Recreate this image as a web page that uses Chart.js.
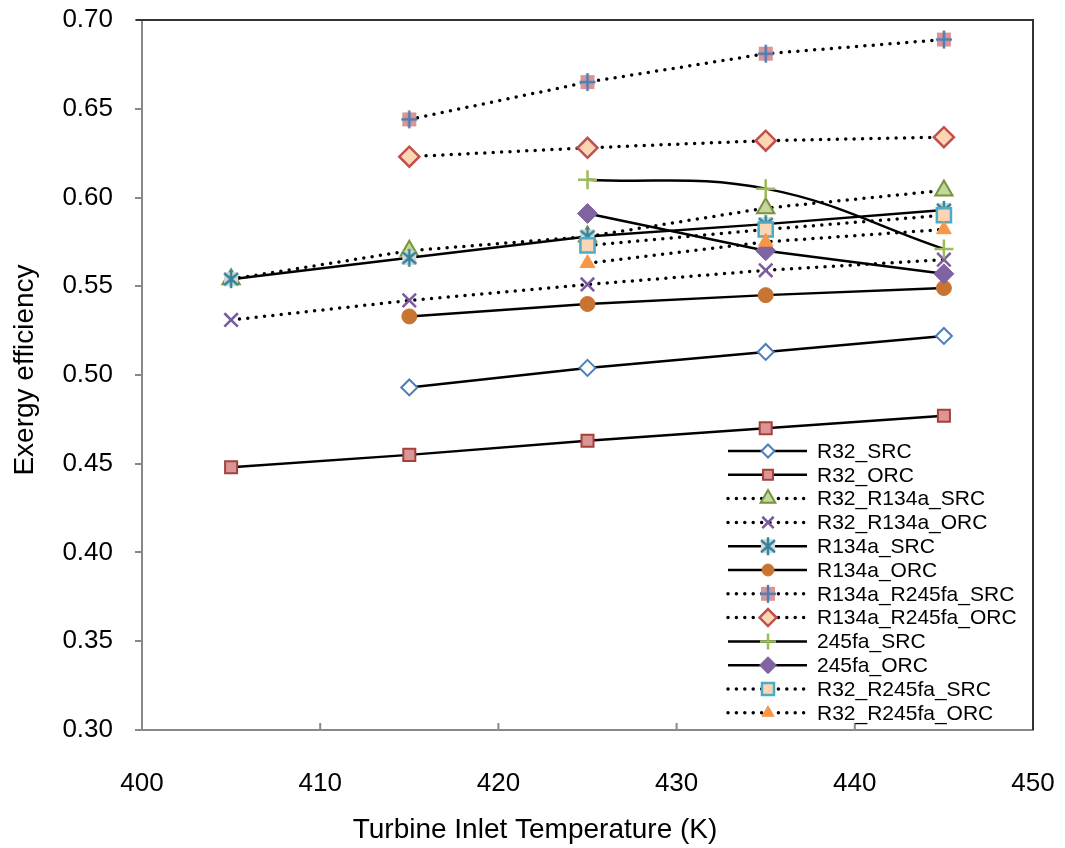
<!DOCTYPE html>
<html>
<head>
<meta charset="utf-8">
<script src="https://cdn.jsdelivr.net/npm/chart.js@4.4.1/dist/chart.umd.min.js"></script>
<style>
  html, body { margin: 0; padding: 0; background: #fff; }
  #wrap { width: 1065px; height: 848px; }
</style>
</head>
<body>
<div id="wrap"><canvas id="expChart" width="1065" height="848"></canvas></div>
<script>
// turbine inlet temperatures (K)
const temps = [405, 415, 425, 435, 445];
const yTicks = [0.30, 0.35, 0.40, 0.45, 0.50, 0.55, 0.60, 0.65, 0.70];
const xTicks = [400, 410, 420, 430, 440, 450];

const seriesNames = ['R32_SRC', 'R32_ORC', 'R32_R134a_SRC', 'R32_R134a_ORC', 'R134a_SRC', 'R134a_ORC',
    'R134a_R245fa_SRC', 'R134a_R245fa_ORC', '245fa_SRC', '245fa_ORC', 'R32_R245fa_SRC', 'R32_R245fa_ORC'];

// exergy efficiency, one value per temperature (null = no point)
const r32Src         = [null, 0.493, 0.504, 0.513, 0.522];
const r32Orc         = [0.448, 0.455, 0.463, 0.470, 0.477];
const r32R134aSrc    = [0.554, 0.570, 0.578, 0.594, 0.604];
const r32R134aOrc    = [0.531, 0.542, 0.551, 0.559, 0.565];
const r134aSrc       = [0.554, 0.566, 0.578, 0.585, 0.593];
const r134aOrc       = [null, 0.533, 0.540, 0.545, 0.549];
const r134aR245faSrc = [null, 0.644, 0.665, 0.681, 0.689];
const r134aR245faOrc = [null, 0.623, 0.628, 0.632, 0.634];
const r245faSrc      = [null, null, 0.610, 0.605, 0.571];
const r245faOrc      = [null, null, 0.591, 0.570, 0.557];
const r32R245faSrc   = [null, null, 0.573, 0.582, 0.590];
const r32R245faOrc   = [null, null, 0.563, 0.575, 0.582];

const allSeries = [r32Src, r32Orc, r32R134aSrc, r32R134aOrc, r134aSrc, r134aOrc,
    r134aR245faSrc, r134aR245faOrc, r245faSrc, r245faOrc, r32R245faSrc, r32R245faOrc];

// custom marker images
function pinkPlus() {
    const c = document.createElement('canvas');
    c.width = 20; c.height = 20;
    const g = c.getContext('2d');
    g.fillStyle = '#DA9694';
    g.fillRect(3, 3, 14, 14);
    g.strokeStyle = '#4A7EBB';
    g.lineWidth = 2.5;
    g.beginPath();
    g.moveTo(10, 1); g.lineTo(10, 19);
    g.moveTo(2, 10); g.lineTo(18, 10);
    g.stroke();
    return c;
}
function greyStar() {
    const c = document.createElement('canvas');
    c.width = 20; c.height = 20;
    const g = c.getContext('2d');
    g.fillStyle = '#D9D9D9';
    g.fillRect(3, 3, 14, 14);
    g.strokeStyle = '#31859C';
    g.lineWidth = 2.5;
    g.beginPath();
    g.moveTo(10, 1); g.lineTo(10, 19);
    g.moveTo(3, 4); g.lineTo(17, 16);
    g.moveTo(17, 4); g.lineTo(3, 16);
    g.stroke();
    return c;
}

const markers = [
    { style: 'rectRot', r: 8, fill: '#FFFFFF', line: '#4A7EBB', bw: 2 },
    { style: 'rect', r: 8.5, fill: '#DA9694', line: '#A5403D', bw: 2 },
    { style: 'triangle', r: 10, fill: '#C3D69B', line: '#77933C', bw: 2 },
    { style: 'crossRot', r: 9.5, fill: '#7B5A9E', line: '#7B5A9E', bw: 2.5 },
    { style: greyStar(), r: 9, fill: '#D9D9D9', line: '#31859C', bw: 2 },
    { style: 'circle', r: 7.5, fill: '#C87533', line: '#C87533', bw: 1 },
    { style: pinkPlus(), r: 9, fill: '#DA9694', line: '#4A7EBB', bw: 2 },
    { style: 'rectRot', r: 10, fill: '#FCD5B5', line: '#C0504D', bw: 2.5 },
    { style: 'cross', r: 9.5, fill: '#9BBB59', line: '#9BBB59', bw: 2.5 },
    { style: 'rectRot', r: 10, fill: '#8064A2', line: '#8064A2', bw: 1 },
    { style: 'rect', r: 10, fill: '#FCD5B5', line: '#4BACC6', bw: 2.5 },
    { style: 'triangle', r: 8.5, fill: '#F79646', line: '#F79646', bw: 1 }
];
const dotted = [false, false, true, true, false, false, true, true, false, false, true, true];
const smooth = [0, 0, 0, 0, 0, 0, 0, 0, 0.4, 0, 0, 0];

Chart.defaults.font.family = '"Liberation Sans", Arial, sans-serif';
Chart.defaults.color = '#000';

const datasets = allSeries.map((vals, i) => ({
    label: seriesNames[i],
    data: temps.map((t, j) => vals[j] == null ? null : { x: t, y: vals[j] }).filter(p => p),
    borderColor: '#000',
    borderWidth: dotted[i] ? 3.5 : 2.5,
    borderDash: dotted[i] ? [0, 8.4] : [],
    borderCapStyle: dotted[i] ? 'round' : 'butt',
    tension: smooth[i],
    pointStyle: markers[i].style,
    pointRadius: markers[i].r,
    pointBackgroundColor: markers[i].fill,
    pointBorderColor: markers[i].line,
    pointBorderWidth: markers[i].bw,
    order: allSeries.length - i,
    fill: false
}));

const decor = {
    id: 'decor',
    afterDraw(chart) {
        const ctx = chart.ctx;
        const a = chart.chartArea;
        const xs = chart.scales.x;
        ctx.save();
        // inward x ticks
        ctx.strokeStyle = '#888';
        ctx.lineWidth = 2;
        xTicks.forEach(t => {
            const px = xs.getPixelForValue(t);
            ctx.beginPath();
            ctx.moveTo(px, a.bottom);
            ctx.lineTo(px, a.bottom - 7);
            ctx.stroke();
        });
        // top and right frame
        ctx.strokeStyle = '#333';
        ctx.beginPath();
        ctx.moveTo(a.left - 6, a.top);
        ctx.lineTo(a.right, a.top);
        ctx.lineTo(a.right, a.bottom);
        ctx.stroke();

        // axis titles
        ctx.fillStyle = '#000';
        ctx.textAlign = 'center';
        ctx.textBaseline = 'middle';
        ctx.font = '28px "Liberation Sans", Arial, sans-serif';
        ctx.save();
        ctx.translate(25, 370);
        ctx.rotate(-Math.PI / 2);
        ctx.fillText('Exergy efficiency', 0, 0);
        ctx.restore();
        ctx.font = '28px "Liberation Sans", Arial, sans-serif';
        ctx.fillText('Turbine Inlet Temperature (K)', 535, 830);

        // legend
        const lx0 = 728, lx1 = 807, mx = 768, tx = 817;
        ctx.font = '21px "Liberation Sans", Arial, sans-serif';
        ctx.textAlign = 'left';
        chart.data.datasets.forEach((ds, i) => {
            const ly = 451 + i * 23.8;
            ctx.save();
            ctx.strokeStyle = '#000';
            ctx.lineWidth = ds.borderWidth;
            ctx.setLineDash(ds.borderDash);
            ctx.lineCap = ds.borderCapStyle;
            ctx.beginPath();
            ctx.moveTo(lx0, ly);
            ctx.lineTo(lx1, ly);
            ctx.stroke();
            ctx.restore();
            ctx.save();
            ctx.fillStyle = ds.pointBackgroundColor;
            ctx.strokeStyle = ds.pointBorderColor;
            ctx.lineWidth = ds.pointBorderWidth;
            Chart.helpers.drawPoint(ctx, {
                pointStyle: ds.pointStyle,
                radius: ds.pointRadius - 1.5,
                rotation: 0,
                borderWidth: ds.pointBorderWidth
            }, mx, ly);
            ctx.restore();
            ctx.fillStyle = '#000';
            ctx.fillText(ds.label, tx, ly + 1);
        });
        ctx.restore();
    }
};

new Chart(document.getElementById('expChart').getContext('2d'), {
    type: 'line',
    data: { datasets: datasets },
    options: {
        responsive: false,
        animation: false,
        events: [],
        layout: { padding: { top: 20, right: 32, left: 0, bottom: 0 } },
        plugins: { legend: { display: false }, tooltip: { enabled: false } },
        scales: {
            x: {
                type: 'linear',
                min: 400,
                max: 450,
                afterBuildTicks: s => { s.ticks = xTicks.map(v => ({ value: v })); },
                ticks: { font: { size: 26 }, color: '#000', padding: 30 },
                grid: { display: false },
                border: { color: '#888', width: 2 },
                afterFit: s => { s.height = 118; s.paddingLeft = 0; s.paddingRight = 0; }
            },
            y: {
                min: 0.30,
                max: 0.70,
                afterBuildTicks: s => { s.ticks = yTicks.map(v => ({ value: v })); },
                ticks: { font: { size: 26 }, color: '#000', padding: 22, callback: v => v.toFixed(2) },
                grid: { drawOnChartArea: false, tickLength: 7, color: '#888', lineWidth: 2 },
                border: { color: '#888', width: 2 },
                afterFit: s => { s.width = 142; s.paddingTop = 0; s.paddingBottom = 0; }
            }
        }
    },
    plugins: [decor]
});
</script>
</body>
</html>
